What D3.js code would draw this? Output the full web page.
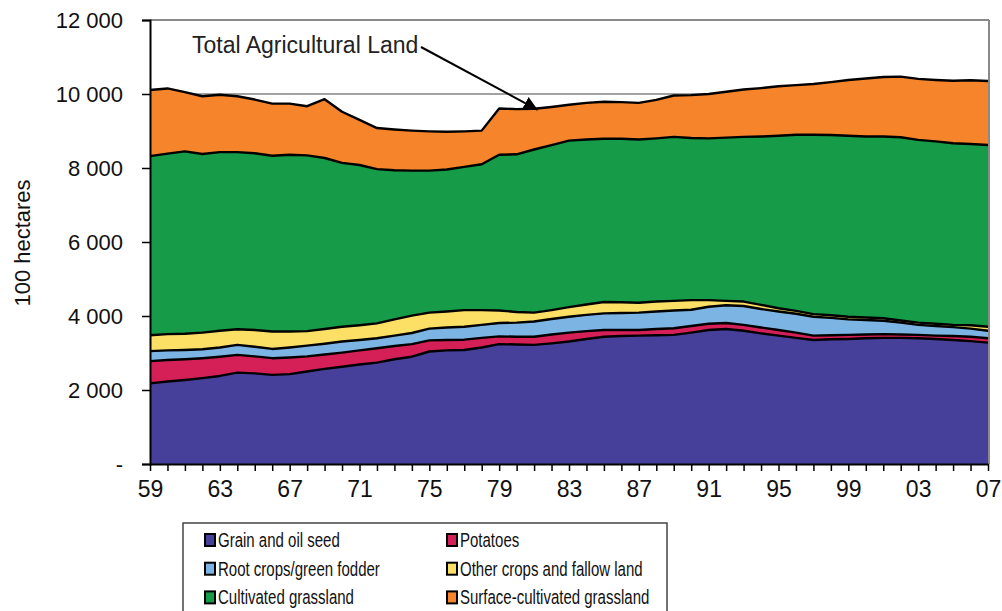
<!DOCTYPE html>
<html>
<head>
<meta charset="utf-8">
<script src="https://cdn.jsdelivr.net/npm/d3@7"></script>
<style>
  body { margin: 0; background: #fff; }
  svg { display: block; font-family: "Liberation Sans", Arial, sans-serif; }
</style>
</head>
<body>
<svg id="chart" width="1002" height="611"></svg>
<script>
var years = [1959, 1960, 1961, 1962, 1963, 1964, 1965, 1966, 1967, 1968,
             1969, 1970, 1971, 1972, 1973, 1974, 1975, 1976, 1977, 1978,
             1979, 1980, 1981, 1982, 1983, 1984, 1985, 1986, 1987, 1988,
             1989, 1990, 1991, 1992, 1993, 1994, 1995, 1996, 1997, 1998,
             1999, 2000, 2001, 2002, 2003, 2004, 2005, 2006, 2007]

var grain = [2180, 2230, 2270, 2320, 2380, 2470, 2450, 2410, 2430, 2500,
             2570, 2630, 2690, 2740, 2830, 2900, 3040, 3070, 3080, 3150,
             3240, 3230, 3220, 3260, 3310, 3380, 3440, 3460, 3470, 3480,
             3490, 3550, 3620, 3650, 3600, 3530, 3470, 3410, 3350, 3370,
             3380, 3400, 3410, 3410, 3400, 3380, 3350, 3320, 3280]

var potatoes = [600, 580, 560, 540, 520, 480, 460, 450, 450, 410,
                390, 380, 380, 390, 360, 340, 300, 280, 280, 260,
                210, 210, 220, 240, 240, 210, 180, 160, 150, 170,
                180, 180, 170, 160, 160, 160, 150, 140, 120, 110,
                110, 100, 100, 90, 90, 90, 110, 120, 120]

var rootCrops = [270, 260, 250, 240, 250, 270, 260, 250, 270, 290,
                 290, 300, 280, 270, 280, 300, 320, 340, 350, 350,
                 360, 380, 410, 420, 430, 440, 450, 460, 470, 470,
                 480, 440, 460, 480, 510, 500, 500, 510, 510, 470,
                 420, 390, 360, 320, 270, 260, 240, 220, 200]

var otherCrops = [430, 440, 440, 450, 450, 420, 450, 470, 430, 390,
                  400, 400, 400, 400, 440, 470, 430, 430, 450, 400,
                  340, 290, 240, 240, 260, 280, 310, 290, 270, 270,
                  260, 260, 180, 120, 120, 110, 90, 80, 70, 70,
                  70, 70, 70, 60, 60, 60, 60, 90, 110]

var cultivated = [4840, 4880, 4930, 4830, 4830, 4790, 4780, 4750, 4780, 4750,
                  4620, 4430, 4330, 4170, 4030, 3920, 3840, 3840, 3870, 3940,
                  4210, 4260, 4410, 4460, 4500, 4460, 4410, 4420, 4410, 4410,
                  4430, 4380, 4370, 4410, 4450, 4550, 4660, 4760, 4850, 4870,
                  4890, 4890, 4910, 4950, 4940, 4930, 4910, 4900, 4910]

var surface = [1790, 1760, 1600, 1560, 1550, 1510, 1450, 1410, 1380, 1330,
               1590, 1380, 1220, 1110, 1100, 1080, 1060, 1020, 960, 910,
               1250, 1220, 1100, 1030, 970, 990, 1000, 990, 990, 1040,
               1120, 1160, 1200, 1240, 1280, 1310, 1340, 1340, 1370, 1430,
               1510, 1570, 1610, 1640, 1650, 1660, 1690, 1720, 1730]

var seriesNames = ["Grain and oil seed", "Potatoes", "Root crops/green fodder",
                   "Other crops and fallow land", "Cultivated grassland", "Surface-cultivated grassland"]
var seriesColors = ["#46409a", "#d42056", "#7cb5e3", "#fce065", "#169b48", "#f5842b"]

var yTicks = [0, 2000, 4000, 6000, 8000, 10000, 12000]
var yTickLabels = ["-", "2 000", "4 000", "6 000", "8 000", "10 000", "12 000"]
var xLabelYears = [1959, 1963, 1967, 1971, 1975, 1979, 1983, 1987, 1991, 1995, 1999, 2003, 2007]

var main = function() {

    var svg = d3.select("#chart")

    var rows = years.map(function(yr, i) {
        return { year: yr, s0: grain[i], s1: potatoes[i], s2: rootCrops[i],
                 s3: otherCrops[i], s4: cultivated[i], s5: surface[i] }
    })

    var x = d3.scaleLinear().domain([1959, 2007]).range([150, 988])
    var y = d3.scaleLinear().domain([0, 12000]).range([464, 20])

    // gridlines under the areas
    svg.append("g").selectAll("line")
        .data(yTicks.slice(1, 6))
      .enter().append("line")
        .attr("x1", 150).attr("x2", 988)
        .attr("y1", function(d) { return y(d) })
        .attr("y2", function(d) { return y(d) })
        .attr("stroke", "#444").attr("stroke-width", 1)

    svg.append("line")
        .attr("x1", 150).attr("x2", 989)
        .attr("y1", y(12000)).attr("y2", y(12000))
        .attr("stroke", "#8a8a8a").attr("stroke-width", 2)
    svg.append("line")
        .attr("x1", 989).attr("x2", 989)
        .attr("y1", y(12000)).attr("y2", y(0))
        .attr("stroke", "#8a8a8a").attr("stroke-width", 2)

    var stack = d3.stack().keys(["s0", "s1", "s2", "s3", "s4", "s5"])
    var layers = stack(rows)

    var area = d3.area()
        .x(function(d) { return x(d.data.year) })
        .y0(function(d) { return y(d[0]) })
        .y1(function(d) { return y(d[1]) })

    var topLine = d3.line()
        .x(function(d) { return x(d.data.year) })
        .y(function(d) { return y(d[1]) })

    svg.append("g").selectAll("path")
        .data(layers)
      .enter().append("path")
        .attr("d", area)
        .attr("fill", function(d, i) { return seriesColors[i] })

    svg.append("g").selectAll("path")
        .data(layers)
      .enter().append("path")
        .attr("d", topLine)
        .attr("fill", "none")
        .attr("stroke", "#000")
        .attr("stroke-width", 2.4)
        .attr("stroke-linejoin", "round")

    // y axis
    var yAxis = d3.axisLeft(y)
        .tickValues(yTicks)
        .tickSize(8)
        .tickPadding(19)
        .tickFormat(function(d, i) { return yTickLabels[i] })

    var gy = svg.append("g")
        .attr("transform", "translate(150,0)")
        .call(yAxis)
    gy.select(".domain").attr("stroke", "#000").attr("stroke-width", 2)
    gy.selectAll(".tick line").attr("stroke", "#000").attr("stroke-width", 1.5)
    gy.selectAll(".tick text")
        .attr("font-size", 22)
        .attr("font-family", "Liberation Sans, Arial, sans-serif")
        .attr("fill", "#111")

    // x axis
    var xAxis = d3.axisBottom(x)
        .tickValues(years)
        .tickSize(7)
        .tickSizeOuter(0)
        .tickPadding(10)
        .tickFormat(function(d) {
            return xLabelYears.indexOf(d) >= 0 ? String(d).slice(2) : ""
        })

    var gx = svg.append("g")
        .attr("transform", "translate(0,464)")
        .call(xAxis)
    gx.select(".domain").attr("stroke", "#000").attr("stroke-width", 2)
    gx.selectAll(".tick line").attr("stroke", "#000").attr("stroke-width", 1.5)
    gx.selectAll(".tick text")
        .attr("font-size", 23)
        .attr("font-family", "Liberation Sans, Arial, sans-serif")
        .attr("fill", "#111")

    svg.append("text")
        .attr("transform", "translate(30,243) rotate(-90)")
        .attr("text-anchor", "middle")
        .attr("font-size", 22)
        .attr("fill", "#111")
        .text("100 hectares")

    // annotation
    svg.append("defs").append("marker")
        .attr("id", "arrowhead")
        .attr("viewBox", "0 0 10 10")
        .attr("refX", 10).attr("refY", 5)
        .attr("markerWidth", 7).attr("markerHeight", 7)
        .attr("markerUnits", "strokeWidth")
        .attr("orient", "auto")
      .append("path")
        .attr("d", "M0,0 L10,5 L0,10 Z")
        .attr("fill", "#000")

    svg.append("text")
        .attr("x", 192).attr("y", 53)
        .attr("font-size", 23)
        .attr("fill", "#222")
        .text("Total Agricultural Land")

    svg.append("line")
        .attr("x1", 421).attr("y1", 47)
        .attr("x2", x(1980) + 21).attr("y2", y(9600) + 1)
        .attr("stroke", "#000").attr("stroke-width", 2)
        .attr("marker-end", "url(#arrowhead)")

    // legend
    var legend = svg.append("g")
    legend.append("rect")
        .attr("x", 183).attr("y", 523)
        .attr("width", 484).attr("height", 100)
        .attr("fill", "#fff")
        .attr("stroke", "#444").attr("stroke-width", 1.5)

    var item = legend.selectAll("g.item")
        .data(seriesNames)
      .enter().append("g")
        .attr("class", "item")
        .attr("transform", function(d, i) {
            return "translate(" + (i % 2 === 0 ? 205 : 447) + "," + (534 + Math.floor(i / 2) * 28.7) + ")"
        })

    item.append("rect")
        .attr("x", 0).attr("y", 0)
        .attr("width", 10).attr("height", 12)
        .attr("fill", function(d, i) { return seriesColors[i] })
        .attr("stroke", "#000").attr("stroke-width", 2)

    item.append("text")
        .attr("transform", "translate(13,13) scale(0.77,1)")
        .attr("font-size", 19.5)
        .attr("fill", "#111")
        .text(function(d) { return d })
}

main()
</script>
</body>
</html>
